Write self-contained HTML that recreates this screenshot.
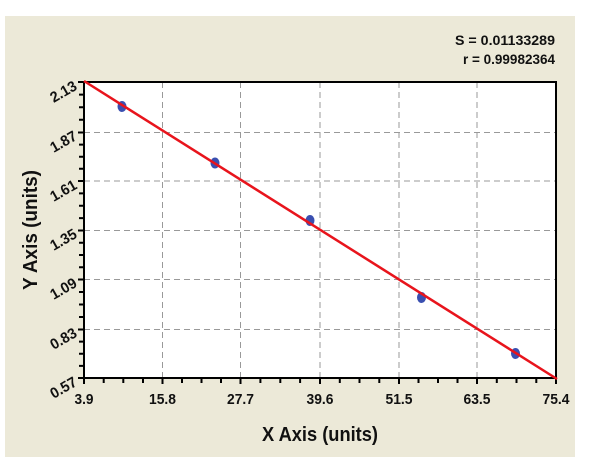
<!DOCTYPE html>
<html><head><meta charset="utf-8"><style>
body{margin:0;background:#fff;}
svg{display:block;font-family:"Liberation Sans",Arial,sans-serif;font-weight:bold;}
</style></head><body>
<svg width="600" height="466" viewBox="0 0 600 466" xmlns="http://www.w3.org/2000/svg">
<rect x="5" y="16" width="570" height="441" fill="#ece9d8"/>
<rect x="84" y="82" width="472" height="296" fill="#fff"/>
<g stroke="#999" stroke-width="1" stroke-dasharray="6,4">
<line x1="162.5" y1="82" x2="162.5" y2="378"/>
<line x1="240.5" y1="82" x2="240.5" y2="378"/>
<line x1="320" y1="82" x2="320" y2="378"/>
<line x1="399" y1="82" x2="399" y2="378"/>
<line x1="477" y1="82" x2="477" y2="378"/>
<line x1="84" y1="132.5" x2="556" y2="132.5"/>
<line x1="84" y1="181" x2="556" y2="181"/>
<line x1="84" y1="230.5" x2="556" y2="230.5"/>
<line x1="84" y1="279.5" x2="556" y2="279.5"/>
<line x1="84" y1="329.5" x2="556" y2="329.5"/>
</g>
<rect x="84" y="82" width="472" height="296" fill="none" stroke="#000" stroke-width="2"/>
<g stroke="#000" stroke-width="2">
<path d="M84 378v6M103.7 378v5M123.3 378v5M143 378v5M162.5 378v6M182 378v5M201.5 378v5M221 378v5M240.5 378v6M260.4 378v5M280.3 378v5M300.1 378v5M320 378v6M339.8 378v5M359.5 378v5M379.3 378v5M399 378v6M418.5 378v5M438 378v5M457.5 378v5M477 378v6M496.8 378v5M516.5 378v5M536.3 378v5M556 378v6"/>
<path d="M84 82h-6M84 94.6h-5M84 107.2h-5M84 119.8h-5M84 132.5h-6M84 144.6h-5M84 156.7h-5M84 168.8h-5M84 181h-6M84 193.4h-5M84 205.8h-5M84 218.1h-5M84 230.5h-6M84 242.8h-5M84 255h-5M84 267.3h-5M84 279.5h-6M84 292h-5M84 304.5h-5M84 317h-5M84 329.5h-6M84 341.6h-5M84 353.8h-5M84 365.9h-5M84 378h-6"/>
</g>
<g fill="#3a4fb0">
<ellipse cx="122" cy="106.5" rx="4.5" ry="5.5"/>
<ellipse cx="215" cy="163" rx="4.5" ry="5.5"/>
<ellipse cx="310" cy="220.5" rx="4.5" ry="5.5"/>
<ellipse cx="421.5" cy="297.5" rx="4.5" ry="5.5"/>
<ellipse cx="515.5" cy="353.5" rx="4.5" ry="5.5"/>
</g>
<line x1="84" y1="81" x2="557" y2="379" stroke="#e8141c" stroke-width="2.5"/>
<g font-size="15" text-anchor="middle" fill="#111">
<text x="84" y="404" textLength="19" lengthAdjust="spacingAndGlyphs">3.9</text>
<text x="162.5" y="404" textLength="27" lengthAdjust="spacingAndGlyphs">15.8</text>
<text x="240.5" y="404" textLength="27" lengthAdjust="spacingAndGlyphs">27.7</text>
<text x="320" y="404" textLength="27" lengthAdjust="spacingAndGlyphs">39.6</text>
<text x="399" y="404" textLength="27" lengthAdjust="spacingAndGlyphs">51.5</text>
<text x="477" y="404" textLength="27" lengthAdjust="spacingAndGlyphs">63.5</text>
<text x="556" y="404" textLength="27" lengthAdjust="spacingAndGlyphs">75.4</text>
</g>
<g font-size="15" text-anchor="end" fill="#111">
<text transform="translate(78,89) rotate(-30)" textLength="28" lengthAdjust="spacingAndGlyphs">2.13</text>
<text transform="translate(78,139) rotate(-30)" textLength="28" lengthAdjust="spacingAndGlyphs">1.87</text>
<text transform="translate(78,188) rotate(-30)" textLength="28" lengthAdjust="spacingAndGlyphs">1.61</text>
<text transform="translate(78,237) rotate(-30)" textLength="28" lengthAdjust="spacingAndGlyphs">1.35</text>
<text transform="translate(78,286) rotate(-30)" textLength="28" lengthAdjust="spacingAndGlyphs">1.09</text>
<text transform="translate(78,336) rotate(-30)" textLength="28" lengthAdjust="spacingAndGlyphs">0.83</text>
<text transform="translate(78,385) rotate(-30)" textLength="28" lengthAdjust="spacingAndGlyphs">0.57</text>
</g>
<g font-size="14" fill="#111">
<text x="455" y="45" textLength="100" lengthAdjust="spacingAndGlyphs">S = 0.01133289</text>
<text x="463" y="64" textLength="92" lengthAdjust="spacingAndGlyphs">r = 0.99982364</text>
</g>
<text x="320" y="441" font-size="20" text-anchor="middle" fill="#111" textLength="116" lengthAdjust="spacingAndGlyphs">X Axis (units)</text>
<text transform="translate(37,230) rotate(-90)" font-size="20" text-anchor="middle" fill="#111" textLength="120" lengthAdjust="spacingAndGlyphs">Y Axis (units)</text>
</svg>
</body></html>
